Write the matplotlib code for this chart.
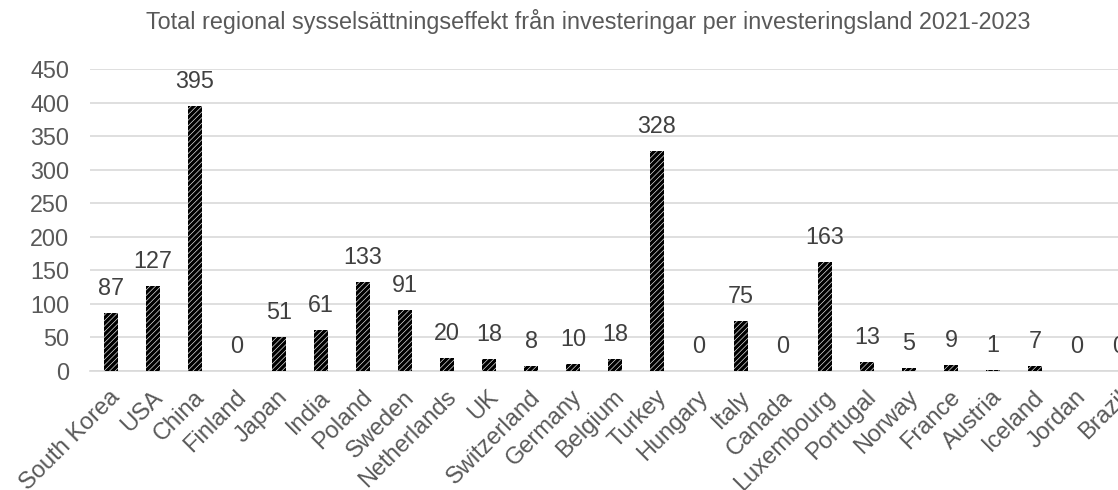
import matplotlib.pyplot as plt
from matplotlib.transforms import ScaledTranslation

plt.rcParams['font.family'] = ['Liberation Sans', 'DejaVu Sans']
plt.rcParams['hatch.linewidth'] = 2.4

countries = ['South Korea', 'USA', 'China', 'Finland', 'Japan', 'India', 'Poland',
             'Sweden', 'Netherlands', 'UK', 'Switzerland', 'Germany', 'Belgium',
             'Turkey', 'Hungary', 'Italy', 'Canada', 'Luxembourg', 'Portugal',
             'Norway', 'France', 'Austria', 'Iceland', 'Jordan', 'Brazil']
jobs = [87, 127, 395, 0, 51, 61, 133, 91, 20, 18, 8, 10, 18, 328, 0, 75, 0,
        163, 13, 5, 9, 1, 7, 0, 0]

grey = '#595959'

fig = plt.figure(figsize=(11.18, 4.9), dpi=100)
ax = fig.add_axes([90 / 1118, 1 - 371 / 490, 1050 / 1118, 302 / 490])

x = list(range(len(countries)))
ax.bar(x, jobs, width=0.31, color='white', edgecolor='black', linewidth=0,
       hatch='//////', zorder=3)

for xi, v in zip(x, jobs):
    ax.annotate(str(v), (xi, v), xytext=(0, 13), textcoords='offset points',
                ha='center', va='baseline', fontsize=16.8, color='#404040')

ax.set_xlim(-0.5, len(countries) - 0.5)
ax.set_ylim(0, 450)
ax.set_yticks(range(0, 451, 50))
ax.yaxis.grid(True, color='#d9d9d9', linewidth=1.2, zorder=0)
ax.set_axisbelow(True)
for s in ['top', 'right', 'left']:
    ax.spines[s].set_visible(False)
ax.spines['bottom'].set_color('#d9d9d9')
ax.spines['bottom'].set_linewidth(1.2)
ax.tick_params(axis='both', length=0, labelsize=16.8, labelcolor=grey)
ax.tick_params(axis='y', pad=15)
ax.tick_params(axis='x', pad=11, labelsize=17)
ax.set_xticks(x)
ax.set_xticklabels(countries, rotation=45, ha='right', rotation_mode='anchor')
shift = ScaledTranslation(-2 / 100, 0, fig.dpi_scale_trans)
for lab in ax.get_xticklabels():
    lab.set_transform(lab.get_transform() + shift)

fig.text(0.526, 1 - 22 / 490, 'Total regional sysselsättningseffekt från investeringar per investeringsland 2021-2023',
         ha='center', va='center', fontsize=16.8, color=grey)

fig.savefig('out.png', dpi=100)
